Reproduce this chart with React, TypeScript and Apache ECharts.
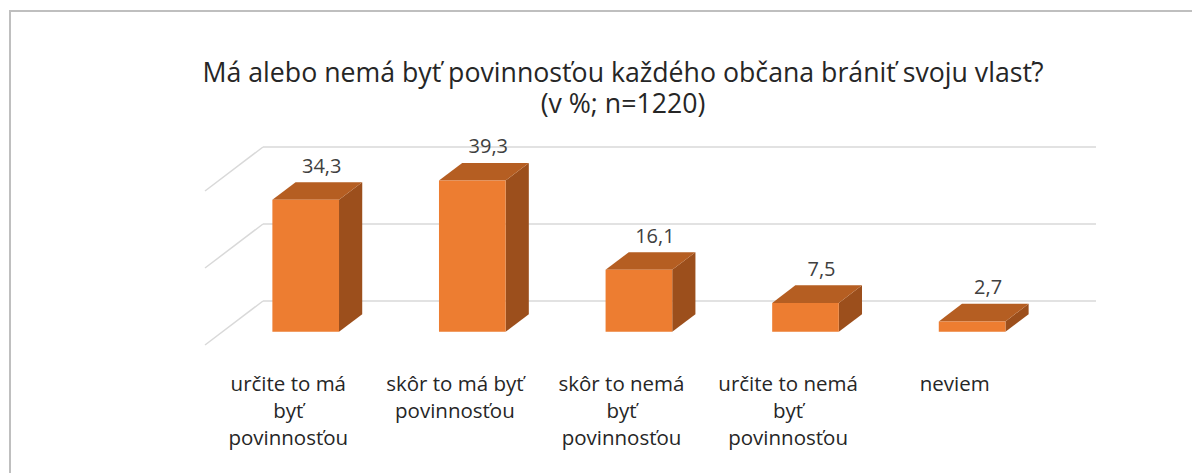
import React, { useEffect, useRef } from "react";
import * as echarts from "echarts";

const titleLines = ["Má alebo nemá byť povinnosťou každého občana brániť svoju vlasť?", "(v %; n=1220)"];
const categories = [
  "určite to má\nbyť\npovinnosťou",
  "skôr to má byť\npovinnosťou",
  "skôr to nemá\nbyť\npovinnosťou",
  "určite to nemá\nbyť\npovinnosťou",
  "neviem",
];
const values = [34.3, 39.3, 16.1, 7.5, 2.7];
const yTicks = [0, 20, 40];

const FONT = "'Open Sans', 'Noto Sans', sans-serif";
const DEPTH_DX = 58;
const DEPTH_DY = 44;
const FRONT = 0.7;
const BACK = 0.3;

export default function App() {
  const ref = useRef<HTMLDivElement>(null);
  useEffect(() => {
    if (!ref.current) return;
    const chart = echarts.init(ref.current, null, { renderer: "svg" });
    const option: any = {
      animation: false,
      backgroundColor: "#ffffff",
      title: {
        text: titleLines.join("\n"),
        left: 610,
        top: 43,
        textAlign: "center",
        textStyle: {
          fontFamily: FONT,
          fontSize: 26.7,
          fontWeight: "normal",
          color: "#262626",
          lineHeight: 31,
        },
      },
      graphic: [
        {
          type: "rect",
          shape: { x: 2, y: 3, width: 1400, height: 700 },
          style: { fill: "none", stroke: "#BFBFBF", lineWidth: 2 },
          silent: true,
        },
      ],
      grid: { left: 255, top: 139, width: 833, height: 154 },
      xAxis: {
        type: "category",
        data: categories,
        boundaryGap: true,
        axisLine: { show: false },
        axisTick: { show: false },
        axisLabel: { show: false },
      },
      yAxis: {
        type: "value",
        min: 0,
        max: 40,
        interval: 20,
        axisLine: { show: false },
        axisTick: { show: false },
        axisLabel: { show: false },
        splitLine: { lineStyle: { color: "#D9D9D9", width: 1.5 } },
      },
      series: [
        {
          type: "custom",
          name: "grid-depth",
          z: 1,
          silent: true,
          data: yTicks.map((t) => [0, t]),
          renderItem: (params: any, api: any) => {
            const p = api.coord([0, api.value(1)]);
            const x0 = params.coordSys.x;
            return {
              type: "line",
              shape: { x1: x0, y1: p[1], x2: x0 - DEPTH_DX, y2: p[1] + DEPTH_DY },
              style: { stroke: "#D9D9D9", lineWidth: 1.5 },
            };
          },
        },
        {
          type: "custom",
          name: "values",
          z: 3,
          data: values.map((v, i) => [i, v]),
          renderItem: (params: any, api: any) => {
            const idx = api.value(0);
            const v = api.value(1);
            const top = api.coord([idx, v]);
            const base = api.coord([idx, 0]);
            const band = api.size([1, 0])[0];
            const w = band * 0.4;
            const fx = top[0] - FRONT * DEPTH_DX;
            const fdy = FRONT * DEPTH_DY;
            const bx = top[0] - BACK * DEPTH_DX;
            const bdy = BACK * DEPTH_DY;
            const ftY = top[1] + fdy;
            const fbY = base[1] + fdy;
            const btY = top[1] + bdy;
            const bbY = base[1] + bdy;
            return {
              type: "group",
              children: [
                {
                  type: "polygon",
                  shape: {
                    points: [
                      [fx + w / 2, ftY],
                      [bx + w / 2, btY],
                      [bx + w / 2, bbY],
                      [fx + w / 2, fbY],
                    ],
                  },
                  style: { fill: "#9C4F1C" },
                },
                {
                  type: "polygon",
                  shape: {
                    points: [
                      [fx - w / 2, ftY],
                      [fx + w / 2, ftY],
                      [bx + w / 2, btY],
                      [bx - w / 2, btY],
                    ],
                  },
                  style: { fill: "#B55E22" },
                },
                {
                  type: "rect",
                  shape: { x: fx - w / 2, y: ftY, width: w, height: fbY - ftY },
                  style: { fill: "#ED7D31" },
                },
                {
                  type: "text",
                  x: fx + 16,
                  y: btY - 17,
                  style: {
                    text: v.toFixed(1).replace(".", ","),
                    fontFamily: FONT,
                    fontSize: 20,
                    fill: "#404040",
                    align: "center",
                    verticalAlign: "middle",
                  },
                },
                {
                  type: "text",
                  x: top[0] - DEPTH_DX,
                  y: base[1] + DEPTH_DY + 24,
                  style: {
                    text: categories[idx],
                    fontFamily: FONT,
                    fontSize: 20.5,
                    lineHeight: 27,
                    fill: "#262626",
                    align: "center",
                    verticalAlign: "top",
                  },
                },
              ],
            };
          },
        },
      ],
    };
    chart.setOption(option);
    return () => chart.dispose();
  }, []);
  return <div ref={ref} style={{ width: 1192, height: 465 }} />;
}
